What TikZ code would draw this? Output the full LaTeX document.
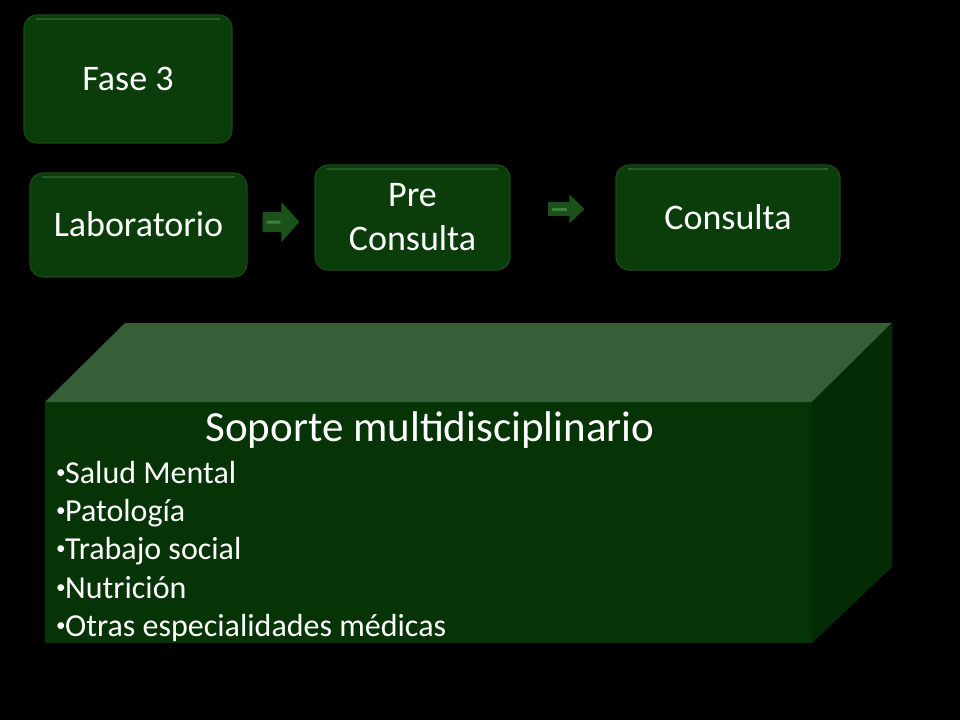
\documentclass[tikz,border=0pt]{standalone}
\usepackage{fontspec}
\setmainfont{Carlito}
\usetikzlibrary{calc,arrows.meta}
\definecolor{boxg}{HTML}{0A3D0A}
\definecolor{boxedge}{HTML}{174A17}
\definecolor{boxhi}{HTML}{2A5A2A}
\definecolor{frontg}{HTML}{073407}
\definecolor{topg}{HTML}{375F37}
\definecolor{sideg}{HTML}{042C04}
\definecolor{arrg}{HTML}{1B521B}
\definecolor{arrhi}{HTML}{3F7F3F}
\newcommand\bul{\makebox[10bp][l]{\hspace{1bp}\raisebox{5bp}{\scalebox{0.6}{•}}}}
\begin{document}
\begin{tikzpicture}[x=1bp,y=-1bp,
  stepbox/.style={draw=boxedge, line width=1.2bp, fill=boxg, rounded corners=13bp,
    inner sep=0pt, text=white, font=\fontsize{36bp}{44bp}\selectfont, align=center,
    path picture={\draw[boxhi, line width=2.5bp]
      ([xshift=12bp,yshift=-4bp]path picture bounding box.north west) --
      ([xshift=-12bp,yshift=-4bp]path picture bounding box.north east);}},
  onel/.style={text height=23bp, text depth=0pt},
  itemtxt/.style={anchor=base west, inner sep=0pt, text=white, font=\fontsize{32bp}{38bp}\selectfont},
  blockarr/.style={draw=arrg},
  arrstripe/.style={draw=arrhi, line width=3bp}]
\fill[black] (0,0) rectangle (960,720);
\useasboundingbox (0,0) rectangle (960,720);

% boxes
\node[stepbox, onel, minimum width=208bp, minimum height=128bp] (fase) at (128,79) {Fase 3};
\node[stepbox, onel, minimum width=217bp, minimum height=104bp] (lab) at (138.5,225) {Laboratorio};
\node[stepbox, minimum width=195bp, minimum height=105bp] (pre) at (412.5,217.5) {Pre\\Consulta};
\node[stepbox, onel, minimum width=224bp, minimum height=105bp] (cons) at (728,217.5) {Consulta};

% block arrows
\draw[blockarr, line width=20bp, -{Triangle[length=18bp,width=39bp]}]
  ($(lab.east)+(15,-3)$) -- ($(pre.west)+(-15,4.5)$);
\draw[arrstripe] ($(lab.east)+(19,-3)$) -- ($(pre.west)+(-34,4.5)$);
\draw[blockarr, line width=14bp, -{Triangle[length=15bp,width=28bp]}]
  ($(pre.east)+(37,-8.5)$) -- ($(cons.west)+(-31,-8.5)$);
\draw[arrstripe] ($(pre.east)+(41,-8.5)$) -- ($(cons.west)+(-48,-8.5)$);

% cube
\fill[frontg] (45,402) rectangle (812,643);
\fill[topg] (45,402) -- (125,323) -- (892,323) -- (812,402) -- cycle;
\fill[sideg] (812,402) -- (892,323) -- (892,567) -- (812,643) -- cycle;

\node[anchor=base, inner sep=0pt, text=white, font=\fontsize{43bp}{50bp}\selectfont] (title) at (430,441) {Soporte multidisciplinario};
\node[itemtxt] (i1) at (55,483) {\bul Salud Mental};
\node[itemtxt] (i2) at (55,521) {\bul Patología};
\node[itemtxt] (i3) at (55,559.5) {\bul Trabajo social};
\node[itemtxt] (i4) at (55,598) {\bul Nutrición};
\node[itemtxt] (i5) at (55,636) {\bul Otras especialidades médicas};
\end{tikzpicture}
\end{document}
